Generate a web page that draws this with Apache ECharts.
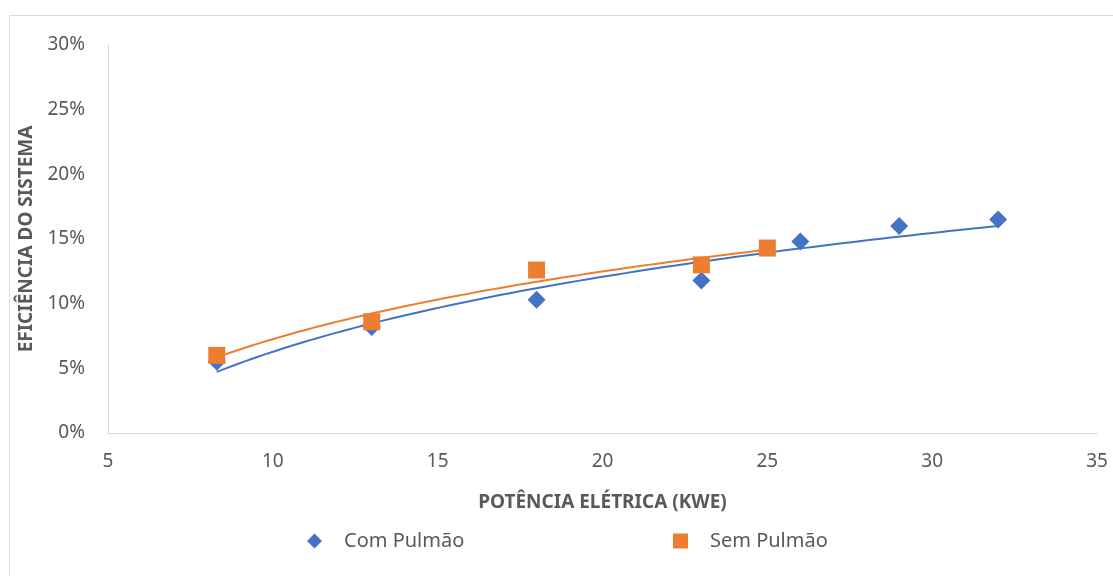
<!DOCTYPE html>
<html>
<head>
<meta charset="utf-8">
<script src="https://cdn.jsdelivr.net/npm/echarts@6/dist/echarts.min.js"></script>
<style>
  html, body { margin: 0; padding: 0; background: #ffffff; }
  #chart { width: 1113px; height: 576px; }
</style>
</head>
<body>
<div id="chart"></div>
<script>
// Electrical power (kWe) and system efficiency (%) for each configuration
const comPulmaoX = [8.3, 13, 18, 23, 26, 29, 32];
const comPulmaoY = [5.5, 8.2, 10.3, 11.8, 14.8, 16.0, 16.5];
const semPulmaoX = [8.3, 13, 18, 23, 25];
const semPulmaoY = [6.0, 8.6, 12.6, 13.0, 14.3];

const xTicks = [5, 10, 15, 20, 25, 30, 35];
const yTicks = [0, 5, 10, 15, 20, 25, 30];

const BLUE = '#4472C4';
const ORANGE = '#ED7D31';
const TEXT = '#595959';
const FONT = '"Noto Sans", "Open Sans", sans-serif';

// Least-squares logarithmic trendline y = a*ln(x) + b, sampled across the data range
function logTrend(xs, ys, steps) {
  const lx = xs.map(Math.log);
  const n = xs.length;
  const mx = lx.reduce((s, v) => s + v, 0) / n;
  const my = ys.reduce((s, v) => s + v, 0) / n;
  let sxy = 0, sxx = 0;
  for (let i = 0; i < n; i++) {
    sxy += (lx[i] - mx) * (ys[i] - my);
    sxx += (lx[i] - mx) * (lx[i] - mx);
  }
  const a = sxy / sxx;
  const b = my - a * mx;
  const x0 = Math.min(...xs), x1 = Math.max(...xs);
  const pts = [];
  for (let k = 0; k <= steps; k++) {
    const x = x0 + (x1 - x0) * k / steps;
    pts.push([x, a * Math.log(x) + b]);
  }
  return pts;
}

const zip = (xs, ys) => xs.map((x, i) => [x, ys[i]]);

const chart = echarts.init(document.getElementById('chart'));
chart.setOption({
  animation: false,
  backgroundColor: '#ffffff',
  graphic: [{
    type: 'rect',
    shape: { x: 9.5, y: 15.5, width: 1200, height: 700 },
    style: { fill: 'none', stroke: '#d9d9d9', lineWidth: 1 },
    silent: true
  }],
  grid: { left: 108, right: 16, top: 45, bottom: 143 },
  legend: [{
    data: [{ name: 'Com Pulmão', icon: 'diamond' }],
    left: 302, top: 526,
    itemWidth: 15, itemHeight: 15, itemGap: 0,
    textStyle: { color: TEXT, fontFamily: FONT, fontSize: 20, padding: [0, 0, 0, 17] }
  }, {
    data: [{ name: 'Sem Pulmão', icon: 'rect' }],
    left: 668, top: 526,
    itemWidth: 15, itemHeight: 15, itemGap: 0,
    textStyle: { color: TEXT, fontFamily: FONT, fontSize: 20, padding: [0, 0, 0, 17] }
  }],
  xAxis: {
    type: 'value',
    min: xTicks[0], max: xTicks[xTicks.length - 1], interval: 5,
    name: 'POTÊNCIA ELÉTRICA (KWE)',
    nameLocation: 'middle', nameGap: 60,
    nameTextStyle: { color: TEXT, fontFamily: FONT, fontSize: 19, fontWeight: 'bold' },
    axisLine: { show: true, lineStyle: { color: '#d9d9d9', width: 1 } },
    axisTick: { show: false },
    splitLine: { show: false },
    axisLabel: { color: TEXT, fontFamily: FONT, fontSize: 19, margin: 19 }
  },
  yAxis: {
    type: 'value',
    min: yTicks[0], max: yTicks[yTicks.length - 1], interval: 5,
    name: 'EFICIÊNCIA DO SISTEMA',
    nameLocation: 'middle', nameGap: 71,
    nameTextStyle: { color: TEXT, fontFamily: FONT, fontSize: 19, fontWeight: 'bold' },
    axisLine: { show: true, lineStyle: { color: '#d9d9d9', width: 1 } },
    axisTick: { show: false },
    splitLine: { show: false },
    axisLabel: { color: TEXT, fontFamily: FONT, fontSize: 19, margin: 23, formatter: '{value}%' }
  },
  series: [{
    name: 'Com Pulmão trend',
    type: 'line',
    data: logTrend(comPulmaoX, comPulmaoY, 80),
    showSymbol: false, smooth: false,
    lineStyle: { color: BLUE, width: 2 },
    z: 3, silent: true
  }, {
    name: 'Sem Pulmão trend',
    type: 'line',
    data: logTrend(semPulmaoX, semPulmaoY, 80),
    showSymbol: false, smooth: false,
    lineStyle: { color: ORANGE, width: 2 },
    z: 3, silent: true
  }, {
    name: 'Com Pulmão',
    type: 'scatter',
    data: zip(comPulmaoX, comPulmaoY),
    symbol: 'diamond', symbolSize: 18,
    itemStyle: { color: BLUE, opacity: 1 },
    z: 4
  }, {
    name: 'Sem Pulmão',
    type: 'scatter',
    data: zip(semPulmaoX, semPulmaoY),
    symbol: 'rect', symbolSize: 17,
    itemStyle: { color: ORANGE, opacity: 1 },
    z: 5
  }]
});
</script>
</body>
</html>
